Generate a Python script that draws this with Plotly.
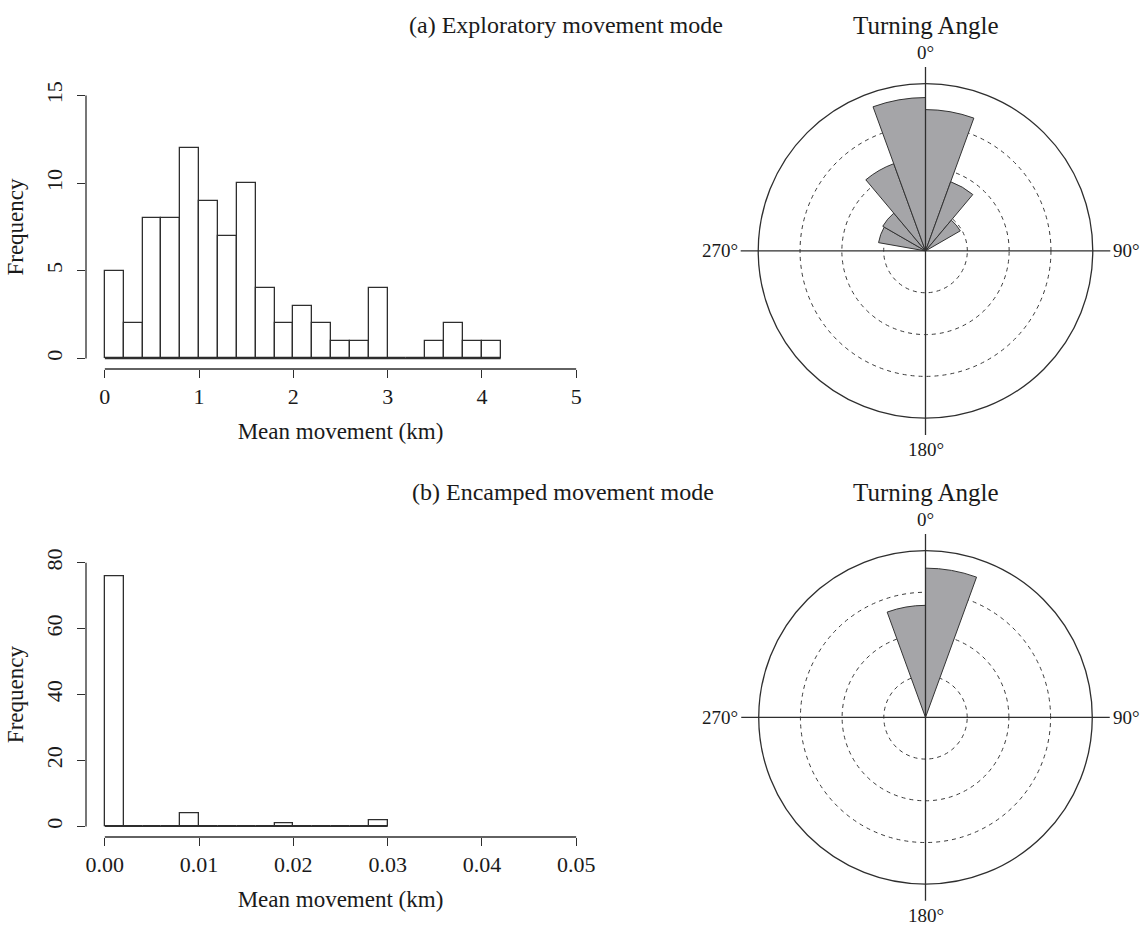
import plotly.graph_objects as go

# ---------------------------------------------------------------- data
# (a) exploratory mode: step-length histogram (bin width 0.2 km, from 0)
explor_bin_width = 0.2
explor_counts = [5, 2, 8, 8, 12, 9, 7, 10, 4, 2, 3, 2, 1, 1, 4, 0, 0, 1, 2, 1, 1]
explor_xticks = [0, 1, 2, 3, 4, 5]
explor_xticktext = ["0", "1", "2", "3", "4", "5"]
explor_yticks = [0, 5, 10, 15]

# (b) encamped mode: step-length histogram (bin width 0.002 km, from 0)
encamp_bin_width = 0.002
encamp_counts = [76, 0, 0, 0, 4, 0, 0, 0, 0, 1, 0, 0, 0, 0, 2]
encamp_xticks = [0.0, 0.01, 0.02, 0.03, 0.04, 0.05]
encamp_xticktext = ["0.00", "0.01", "0.02", "0.03", "0.04", "0.05"]
encamp_yticks = [0, 20, 40, 60, 80]

# turning-angle rose diagrams: 20-degree bins, relative radius of each petal
rose_bin_width = 20
explor_rose_theta = [10, 30, 50, 290, 310, 330, 350]
explor_rose_r = [0.845, 0.44, 0.24, 0.285, 0.295, 0.555, 0.917]
encamp_rose_theta = [10, 350]
encamp_rose_r = [0.895, 0.672]

compass_labels = ["0°", "90°", "180°", "270°"]

# ---------------------------------------------------------------- layout helpers
W, H = 1141, 925
FONT = "Liberation Serif, Times New Roman, serif"
INK = "#1a1a1a"
LINE = "#2e2e2e"


def fx(p):
    return p / W


def fy(p):
    return 1 - p / H


fig = go.Figure()

# ---------------------------------------------------------------- histograms
def add_hist(counts, bw, xa, ya):
    centers = [i * bw + bw / 2 for i in range(len(counts))]
    fig.add_trace(go.Bar(
        x=centers, y=counts, width=bw,
        marker=dict(color="white", line=dict(color=LINE, width=1.3)),
        xaxis=xa, yaxis=ya, showlegend=False, hoverinfo="x+y",
    ))
    # baseline under the (possibly empty) bins
    fig.add_shape(type="line", xref=xa, yref=ya, x0=0, x1=len(counts) * bw,
                  y0=0, y1=0, line=dict(color=LINE, width=1.3))


add_hist(explor_counts, explor_bin_width, "x", "y")
add_hist(encamp_counts, encamp_bin_width, "x2", "y2")

axis_common = dict(showgrid=False, zeroline=False, showline=False,
                   ticks="outside", ticklen=8, tickwidth=1.2, tickcolor=LINE,
                   tickfont=dict(family=FONT, size=22, color=INK))

title_font = dict(family=FONT, size=23, color=INK)
hx0, hx1 = fx(86), fx(595)

fig.update_layout(
    xaxis=dict(domain=[hx0, hx1], range=[-0.2, 5.2], anchor="y",
               tickvals=explor_xticks, ticktext=explor_xticktext,
               ticklabelstandoff=0,
               title=dict(text="Mean movement (km)", standoff=14, font=title_font),
               **axis_common),
    yaxis=dict(domain=[fy(366.6), fy(81.4)], range=[-0.6, 15.6], anchor="x",
               tickvals=explor_yticks, tickangle=-90, ticklabelstandoff=6,
               title=dict(text="Frequency", standoff=12, font=title_font),
               **axis_common),
    xaxis2=dict(domain=[hx0, hx1], range=[-0.002, 0.052], anchor="y2",
                tickvals=encamp_xticks, ticktext=encamp_xticktext,
                ticklabelstandoff=0,
                title=dict(text="Mean movement (km)", standoff=14, font=title_font),
                **axis_common),
    yaxis2=dict(domain=[fy(836.6), fy(550.6)], range=[-3.2, 83.2], anchor="x2",
                tickvals=encamp_yticks, tickangle=-90, ticklabelstandoff=6,
                title=dict(text="Frequency", standoff=12, font=title_font),
                **axis_common),
)

# R-style axis lines that stop at the first and last tick
for xr, yr, xt, yt in (("x", "y", explor_xticks, explor_yticks),
                       ("x2", "y2", encamp_xticks, encamp_yticks)):
    fig.add_shape(type="line", xref=xr, yref=f"{yr} domain",
                  x0=xt[0], x1=xt[-1], y0=0, y1=0,
                  line=dict(color=LINE, width=1.3))
    fig.add_shape(type="line", xref=f"{xr} domain", yref=yr,
                  x0=0, x1=0, y0=yt[0], y1=yt[-1],
                  line=dict(color=LINE, width=1.3))

# ---------------------------------------------------------------- rose diagrams
def polar_cfg(cx, cy, rad):
    return dict(
        domain=dict(x=[fx(cx - rad), fx(cx + rad)], y=[fy(cy + rad), fy(cy - rad)]),
        bgcolor="white",
        radialaxis=dict(range=[0, 1], tickvals=[0.25, 0.5, 0.75],
                        showticklabels=False, ticks="", showline=False,
                        gridcolor="#3a3a3a", gridwidth=1.1, griddash="4px,4px"),
        angularaxis=dict(rotation=90, direction="clockwise", showgrid=False,
                         showticklabels=False, ticks="", showline=True,
                         linecolor=LINE, linewidth=1.3),
    )


roses = [
    (explor_rose_theta, explor_rose_r, "polar", 925.5, 248.0, 168.0),
    (encamp_rose_theta, encamp_rose_r, "polar2", 925.5, 716.5, 167.5),
]

for theta, r, sub, cx, cy, rad in roses:
    fig.add_trace(go.Barpolar(
        theta=theta, r=r, width=[rose_bin_width] * len(theta),
        marker=dict(color="#a5a5a8", line=dict(color="#333333", width=1)),
        subplot=sub, showlegend=False,
    ))
    fig.update_layout({sub: polar_cfg(cx, cy, rad)})

    ext = rad * 1.1
    # compass cross through the centre
    fig.add_shape(type="line", xref="paper", yref="paper",
                  x0=fx(cx - ext), x1=fx(cx + ext), y0=fy(cy), y1=fy(cy),
                  line=dict(color=LINE, width=1.3))
    fig.add_shape(type="line", xref="paper", yref="paper",
                  x0=fx(cx), x1=fx(cx), y0=fy(cy - ext), y1=fy(cy + ext),
                  line=dict(color=LINE, width=1.3))

    lab_font = dict(family=FONT, size=19, color=INK)
    fig.add_annotation(x=fx(cx), y=fy(cy - ext - 2), text=compass_labels[0],
                       xref="paper", yref="paper", showarrow=False,
                       xanchor="center", yanchor="bottom", font=lab_font)
    fig.add_annotation(x=fx(cx + ext + 1), y=fy(cy), text=compass_labels[1],
                       xref="paper", yref="paper", showarrow=False,
                       xanchor="left", yanchor="middle", font=lab_font)
    fig.add_annotation(x=fx(cx), y=fy(cy + ext + 2), text=compass_labels[2],
                       xref="paper", yref="paper", showarrow=False,
                       xanchor="center", yanchor="top", font=lab_font)
    fig.add_annotation(x=fx(cx - ext - 1), y=fy(cy), text=compass_labels[3],
                       xref="paper", yref="paper", showarrow=False,
                       xanchor="right", yanchor="middle", font=lab_font)

    fig.add_annotation(x=fx(cx), y=fy(cy - 226), text="Turning Angle",
                       xref="paper", yref="paper", showarrow=False,
                       xanchor="center", yanchor="middle",
                       font=dict(family=FONT, size=25, color=INK))

# ---------------------------------------------------------------- panel titles
fig.add_annotation(x=fx(407), y=fy(21), text="(a) Exploratory movement mode",
                   xref="paper", yref="paper", showarrow=False,
                   xanchor="left", yanchor="middle",
                   font=dict(family=FONT, size=24, color=INK))
fig.add_annotation(x=fx(410), y=fy(490), text="(b) Encamped movement mode",
                   xref="paper", yref="paper", showarrow=False,
                   xanchor="left", yanchor="middle",
                   font=dict(family=FONT, size=24, color=INK))

fig.update_layout(
    width=W, height=H,
    margin=dict(l=0, r=0, t=0, b=0),
    paper_bgcolor="white", plot_bgcolor="white",
    bargap=0, showlegend=False,
    font=dict(family=FONT, color=INK),
)

fig.write_html("out.html")
